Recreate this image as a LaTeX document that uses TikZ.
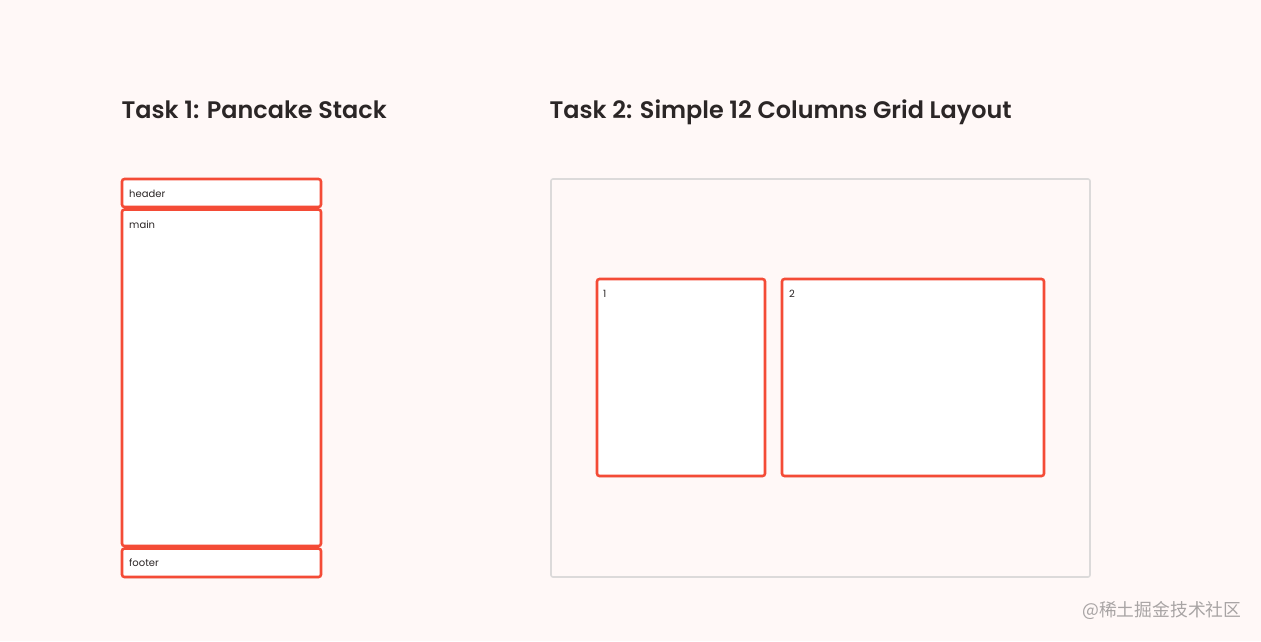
\documentclass[tikz,border=0pt]{standalone}
\usepackage{fontspec}
\setmainfont{Poppins}[BoldFont={Poppins SemiBold}]
\newfontfamily\cjk{Noto Sans CJK SC}
\usetikzlibrary{shadows}
\definecolor{bg}{HTML}{FFF8F7}
\definecolor{red}{HTML}{F44B36}
\definecolor{ink}{HTML}{2B2626}
\definecolor{gridline}{HTML}{DCDADA}
\definecolor{wm}{HTML}{A8A4A4}
\begin{document}
\begin{tikzpicture}[x=1pt,y=-1pt,
  cell/.style={draw=red, line width=2.6pt, fill=white, rounded corners=2.5pt,
    drop shadow={opacity=0.12, shadow xshift=0pt, shadow yshift=-1.5pt}},
  lbl/.style={anchor=base west, inner sep=0pt, text=ink, font=\fontsize{10}{12}\selectfont},
  title/.style={anchor=base west, inner sep=0pt, text=ink, font=\bfseries\fontsize{23.9}{28}\selectfont}]
\fill[bg] (0,0) rectangle (1261,641);
\useasboundingbox (0,0) rectangle (1261,641);

\node[title] (t1) at (121.5,118) {Task 1: Pancake Stack};
\node[title] (t2) at (549.5,118) {Task 2: Simple 12 Columns Grid Layout};

\draw[cell] (122,179) rectangle (321,207);
\draw[cell] (122,209.5) rectangle (321,546);
\draw[cell] (122,548.5) rectangle (321,577);
\node[lbl] (hd) at (129,197) {header};
\node[lbl] (mn) at (129,228) {main};
\node[lbl] (ft) at (129,566) {footer};

\draw[gridline, line width=1.6pt, rounded corners=2pt] (551,179) rectangle (1090,577);
\draw[cell] (597,279) rectangle (765,476);
\draw[cell] (782,279) rectangle (1044,476);
\node[lbl] (c1) at (603,297) {1};
\node[lbl] (c2) at (789,297) {2};

\node[anchor=west, inner sep=0pt, text=wm, font=\cjk\fontsize{17.8}{20}\selectfont] (w) at (1082,610) {@稀土掘金技术社区};
\end{tikzpicture}
\end{document}
